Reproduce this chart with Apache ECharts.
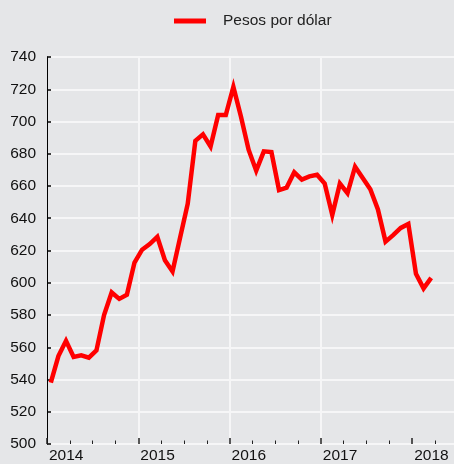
<!DOCTYPE html>
<html>
<head>
<meta charset="utf-8">
<script src="https://cdn.jsdelivr.net/npm/echarts@6/dist/echarts.min.js"></script>
<style>
html,body{margin:0;padding:0;background:#e5e6e8;}
#c{width:454px;height:464px;}
</style>
</head>
<body>
<div id="c"></div>
<script>
// Monthly data, Jan 2014 .. Mar 2018 (pesos per US dollar)
const seriesName = 'Pesos por dólar';
const startYear = 2014;
const values2014 = [538, 554.5, 564, 554, 555, 553.5, 558, 580, 594, 590, 592.5, 612.5];
const values2015 = [620.5, 624, 628.5, 614, 607, 628, 649, 688, 692, 684.5, 704, 704];
const values2016 = [721.5, 703, 682.5, 669.5, 681.5, 681, 657.5, 659, 668.5, 664, 666, 667];
const values2017 = [661.5, 642, 661.5, 655.5, 672, 665, 658, 645.5, 625.5, 629.5, 634, 636.5];
const values2018 = [605.5, 596.5, 603];
const yearTicks = [0, 12, 24, 36, 48];           // months from Jan 2014
const quarterTicks = [3, 6, 9, 15, 18, 21, 27, 30, 33, 39, 42, 45, 51];
const yMin = 500, yMax = 740, yStep = 20;
const xMax = 53.5;

const allValues = [].concat(values2014, values2015, values2016, values2017, values2018);
// points plotted at mid-month
const points = allValues.map((v, i) => [i + 0.5, v]);

const FONT = 'Liberation Sans, Arial, sans-serif';
const chart = echarts.init(document.getElementById('c'), null, {renderer: 'canvas'});
chart.setOption({
  backgroundColor: '#e5e6e8',
  animation: false,
  textStyle: {fontFamily: FONT},
  legend: {
    left: 169, top: 8,
    itemWidth: 32, itemHeight: 5,
    data: [{name: seriesName, icon: 'rect'}],
    textStyle: {fontFamily: FONT, fontSize: 15.5, color: '#222', padding: [0, 0, 0, 12]}
  },
  grid: {left: 47, right: 0, top: 57, bottom: 18, containLabel: false},
  xAxis: [{
    type: 'value', min: 0, max: xMax, interval: 12,
    axisLine: {show: false},
    axisTick: {show: true, inside: true, length: 6, customValues: yearTicks, lineStyle: {color: '#222', width: 1.5}},
    axisLabel: {
      customValues: yearTicks, align: 'left', margin: 4, padding: [0, 0, 0, 2],
      fontFamily: FONT, fontSize: 15.5, color: '#111',
      formatter: v => String(startYear + Math.round(v / 12))
    },
    splitLine: {show: true, showMinLine: false, showMaxLine: false, lineStyle: {color: '#f6f6f7', width: 2}}
  }, {
    type: 'value', min: 0, max: xMax, position: 'bottom',
    axisLine: {show: false},
    axisTick: {show: true, inside: true, length: 3.5, customValues: quarterTicks, lineStyle: {color: '#222', width: 1}},
    axisLabel: {show: false},
    splitLine: {show: false}
  }],
  yAxis: {
    type: 'value', min: yMin, max: yMax, interval: yStep,
    axisLine: {show: true, lineStyle: {color: '#000', width: 1}},
    axisTick: {show: true, inside: true, length: 4, lineStyle: {color: '#000', width: 1.5}},
    axisLabel: {fontFamily: FONT, fontSize: 15.5, color: '#111', margin: 11},
    splitLine: {show: true, lineStyle: {color: '#f6f6f7', width: 2}}
  },
  series: [{
    name: seriesName, type: 'line', data: points, xAxisIndex: 0,
    showSymbol: false, symbol: 'none',
    lineStyle: {color: '#ff0000', width: 4.5, join: 'miter', cap: 'butt'},
    itemStyle: {color: '#ff0000'}
  }]
});
</script>
</body>
</html>
